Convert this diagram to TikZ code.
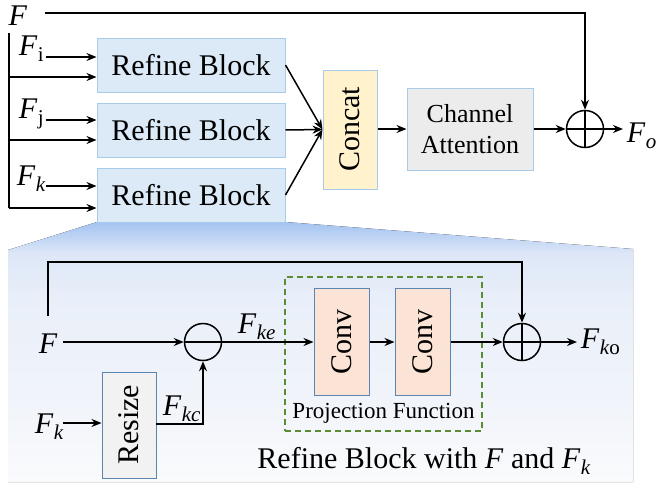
\documentclass[tikz,border=0pt]{standalone}
\usepackage{fontspec}
\setmainfont{Liberation Serif}
\usetikzlibrary{arrows.meta,calc}

\definecolor{refblue}{HTML}{DCE9F6}
\definecolor{edgeblue}{HTML}{A9CBEA}
\definecolor{concatfill}{HTML}{FFF2CC}
\definecolor{cafill}{HTML}{ECECEC}
\definecolor{convfill}{HTML}{FBE4D5}
\definecolor{darkedge}{HTML}{5A85B2}
\definecolor{resizefill}{HTML}{F2F2F2}
\definecolor{projgreen}{HTML}{5B8C32}
\definecolor{ptop}{HTML}{A3C3F1}
\definecolor{pmid}{HTML}{DDE7F7}
\definecolor{pmidb}{HTML}{E9EFF9}
\definecolor{plow}{HTML}{F1F4FA}
\definecolor{pbot}{HTML}{FAFBFD}

% soft blue fade of the zoomed-in panel, strongest at its top
\pgfdeclareverticalshading{panelfade}{100bp}{%
  color(0bp)=(pbot); color(25bp)=(pbot); color(40bp)=(plow);
  color(60bp)=(pmidb); color(69bp)=(pmid); color(75bp)=(ptop);
  color(100bp)=(ptop)}

% italic F with a lowered subscript
\newcommand{\Fs}[1]{\textit{F}\kern0.5pt\raisebox{-6pt}{\fontsize{21}{21}\selectfont #1}}

\begin{document}
\begin{tikzpicture}[x=1pt,y=-1pt,
  line width=1.5pt,
  >={Stealth[length=10pt,width=8pt]},
  big/.style={font=\fontsize{30}{36}\selectfont},
  lbl/.style={big, inner sep=0pt},
  refine/.style={big, draw=edgeblue, fill=refblue, line width=1pt,
    minimum width=188pt, minimum height=54pt, inner sep=0pt},
  concatbox/.style={draw=edgeblue, fill=concatfill, line width=1pt,
    minimum width=54pt, minimum height=119pt, inner sep=0pt},
  cabox/.style={draw=edgeblue, fill=cafill, line width=1pt,
    minimum width=126pt, minimum height=82pt, inner sep=0pt, align=center,
    font=\fontsize{26}{31}\selectfont},
  convbox/.style={draw=darkedge, fill=convfill, line width=1pt,
    minimum width=55pt, minimum height=107pt, inner sep=0pt},
  resizebox/.style={draw=darkedge, fill=resizefill, line width=1pt,
    minimum width=54pt, minimum height=106pt, inner sep=0pt},
  vtext/.style={big, rotate=90, inner sep=0pt},
  circ/.style={draw, circle, line width=1.5pt, minimum size=37pt, inner sep=0pt},
  minus/.style={circ, path picture={
      \draw[line width=1.5pt] (path picture bounding box.west) -- (path picture bounding box.east);}},
  plus/.style={circ, path picture={
      \draw[line width=1.5pt] (path picture bounding box.north) -- (path picture bounding box.south)
        (path picture bounding box.west) -- (path picture bounding box.east);}},
  projbox/.style={draw=projgreen, dashed, dash pattern=on 6pt off 4pt,
    line width=1.5pt, minimum width=197pt, minimum height=154pt, inner sep=0pt},
]
\useasboundingbox (0,0) rectangle (658,482);

% ---------- detail panel (drawn first, so it sits behind) ----------
\fill[shading=panelfade] (97,222) -- (285,222) -- (633,249) -- (633,482)
  -- (8,482) -- (8,250) -- cycle;

% ---------- top: three refine blocks and fusion ----------
\node[refine] (r1) at (191,65)  {Refine Block};
\node[refine] (r2) at (191,130) {Refine Block};
\node[refine] (r3) at (191,195) {Refine Block};

\node[concatbox] (concat) at (350,129.5) {};
\node[vtext] (concattxt) at (concat) {Concat};

\node[cabox] (ca) at (470,129) {Channel\\Attention};

\node[plus] (plus1) at (585,129) {};

% inputs
\node[lbl, anchor=base west] (ftop) at (8,25) {\textit{F}};
\node[lbl, anchor=base west] (fi) at (18,55) {\Fs{i}};
\node[lbl, anchor=base west] (fj) at (18,118) {\Fs{j}};
\node[lbl, anchor=base west] (fk) at (16,185) {\Fs{\textit{k}}};

\coordinate (ftop-out) at (45,13);
\coordinate (fi-out) at (46,57);
\coordinate (fj-out) at (46,120);
\coordinate (fk-out) at (46,186);
\coordinate (bus-top) at (9,33);
\coordinate (bus-a) at (9,77);
\coordinate (bus-b) at (9,140);
\coordinate (bus-c) at (9,208);

\draw[->] (fi-out) -- (fi-out -| r1.west);
\draw[->] (fj-out) -- (fj-out -| r2.west);
\draw[->] (fk-out) -- (fk-out -| r3.west);
\draw (bus-top) -- (bus-c);
\draw[->] (bus-a) -- (bus-a -| r1.west);
\draw[->] (bus-b) -- (bus-b -| r2.west);
\draw[->] (bus-c) -- (bus-c -| r3.west);

\draw[->] (r1.east) -- (concat.west);
\draw[->] (r2.east) -- (concat.west);
\draw[->] (r3.east) -- (concat.west);
\draw[->] (concat.east |- ca.west) -- (ca.west);
\draw[->] (ca.east) -- (plus1.west);
\draw[->] (ftop-out) -| (plus1.north);

\coordinate (fo-in) at (623,129);
\draw[->] (plus1.east) -- (fo-in);
\node[lbl, anchor=base west] (fo) at (626,142) {\Fs{\textit{o}}};

% ---------- detail: refine block with F and F_k ----------
\node[lbl, anchor=base west] (fb) at (38,353) {\textit{F}};
\node[minus] (c1) at (203,342) {};
\coordinate (fb-out) at (63,342);
\draw[->] (fb-out) -- (c1.west);

\node[projbox] (proj) at (383.5,354) {};
\node[convbox] (conv1) at (341.5,341.5) {};
\node[vtext] (conv1txt) at (conv1) {Conv};
\node[convbox] (conv2) at (422.5,341.5) {};
\node[vtext] (conv2txt) at (conv2) {Conv};
\node[anchor=base, inner sep=0pt, font=\fontsize{23}{28}\selectfont] (projlbl)
  at (383.5,418) {Projection Function};

\node[plus] (plus2) at (522,342) {};

\draw[->] (c1.east) -- (c1.east -| conv1.west);
\node[lbl, anchor=base west] (fke) at (237,333) {\Fs{\textit{ke}}};
\draw[->] (conv1.east |- c1.east) -- (conv2.west |- c1.east);
\draw[->] (conv2.east |- c1.east) -- (plus2.west);

\coordinate (loop-start) at (48,316);
\coordinate (loop-top) at (48,262);
\draw[->] (loop-start) -- (loop-top) -| (plus2.north);

\coordinate (fko-in) at (577,342);
\draw[->] (plus2.east) -- (fko-in);
\node[lbl, anchor=base west] (fko) at (580,348) {\Fs{\textit{k}o}};

\node[resizebox] (resize) at (129,425) {};
\node[vtext] (resizetxt) at (resize) {Resize};
\node[lbl, anchor=base west] (fk2) at (34,433) {\Fs{\textit{k}}};
\coordinate (fk2-out) at (63,423);
\draw[->] (fk2-out) -- (fk2-out -| resize.west);
\coordinate (rs-out) at (156,424);
\draw[->] (rs-out) -| (c1.south);
\node[lbl, anchor=base west] (fkc) at (162,415) {\Fs{\textit{kc}}};

\node[big, anchor=base, inner sep=0pt] (caption) at (424,468)
  {Refine Block with \textit{F} and \Fs{\textit{k}}};
\end{tikzpicture}
\end{document}
